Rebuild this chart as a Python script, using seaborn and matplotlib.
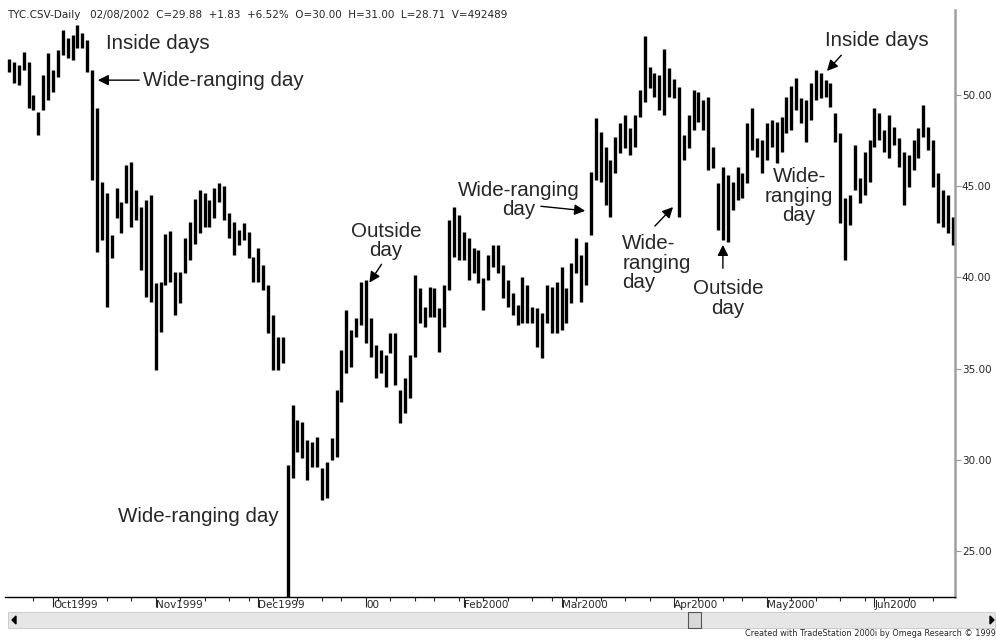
import numpy as np
import pandas as pd
import matplotlib
matplotlib.use("Agg")
import matplotlib.pyplot as plt
import seaborn as sns
from matplotlib.patches import Rectangle, Polygon

# daily highs and lows of TYC, 20 Sep 1999 - 23 Jun 2000
high = [51.97, 51.81, 51.65, 52.36, 51.81, 50.00, 49.07, 51.10, 52.30, 51.37,
        52.47, 53.57, 53.13, 53.29, 53.84, 53.40, 53.02, 51.37, 49.29, 45.23,
        44.63, 42.33, 44.90, 44.14, 46.16, 46.33, 44.79, 43.86, 44.24, 44.52,
        39.70, 39.75, 42.38, 42.55, 40.30, 40.30, 42.16, 43.04, 44.30, 44.79,
        44.63, 44.24, 44.90, 45.18, 45.01, 43.53, 43.04, 42.60, 42.98, 42.49,
        41.12, 41.62, 40.68, 39.59, 37.94, 36.73, 36.73, 29.72, 33.01, 32.19,
        32.07, 31.09, 30.98, 31.25, 29.55, 29.88, 31.20, 33.83, 36.02, 38.22,
        37.12, 37.78, 39.75, 39.86, 37.78, 36.30, 36.02, 35.75, 36.95, 36.95,
        33.83, 34.49, 35.75, 40.13, 39.42, 38.38, 39.48, 39.42, 38.33, 39.59,
        43.15, 43.86, 43.42, 42.49, 42.16, 41.62, 41.50, 39.97, 41.23, 41.78,
        41.78, 40.68, 39.86, 39.15, 38.49, 40.02, 39.59, 38.38, 38.33, 38.05,
        39.59, 39.48, 39.75, 40.57, 39.42, 40.79, 42.16, 41.23, 41.94, 45.78,
        48.74, 47.97, 47.15, 46.44, 47.70, 48.47, 48.91, 48.19, 48.91, 50.27,
        53.23, 51.54, 51.21, 51.10, 52.52, 51.48, 50.88, 50.44, 47.81, 48.91,
        50.27, 50.17, 49.73, 49.89, 47.15, 45.18, 46.05, 45.62, 45.23, 46.05,
        45.72, 48.47, 49.29, 47.64, 47.53, 48.47, 48.63, 48.52, 48.79, 49.89,
        50.49, 50.93, 49.84, 49.73, 50.66, 51.37, 51.21, 50.82, 50.66, 49.02,
        47.92, 44.35, 44.52, 47.26, 45.45, 46.87, 47.53, 49.29, 49.02, 48.08,
        48.91, 48.25, 47.64, 46.87, 46.71, 47.53, 48.19, 49.45, 48.25, 47.53,
        45.72, 44.79, 44.52, 43.31]
low = [51.26, 50.66, 50.55, 51.37, 49.29, 49.18, 47.81, 49.18, 49.73, 50.17,
       50.99, 52.19, 52.03, 51.92, 52.58, 52.58, 51.26, 45.34, 41.39, 42.05,
       38.38, 41.07, 43.26, 42.44, 44.08, 42.77, 43.15, 40.41, 38.93, 38.65,
       34.93, 37.01, 39.59, 39.75, 37.94, 38.60, 40.24, 40.96, 41.83, 42.44,
       42.77, 42.77, 43.26, 44.14, 43.15, 42.16, 41.23, 41.78, 42.05, 41.07,
       39.75, 39.75, 39.31, 36.95, 34.93, 34.93, 35.31, 21.50, 29.01, 30.43,
       30.10, 28.90, 29.61, 29.61, 27.80, 27.91, 30.00, 30.16, 33.17, 34.76,
       35.09, 36.73, 37.39, 36.41, 35.64, 34.49, 34.76, 33.99, 35.86, 34.10,
       32.02, 32.57, 33.39, 35.64, 37.50, 37.28, 37.83, 37.83, 35.91, 37.28,
       39.31, 41.12, 40.96, 40.96, 39.86, 40.24, 39.70, 38.22, 39.86, 40.57,
       40.24, 38.87, 38.38, 37.94, 37.39, 37.50, 37.50, 37.50, 36.19, 35.58,
       37.50, 36.95, 36.95, 37.12, 37.50, 38.60, 40.24, 38.65, 39.59, 42.33,
       45.34, 45.23, 43.97, 43.31, 45.72, 46.82, 47.10, 46.71, 47.15, 48.79,
       49.62, 50.38, 49.89, 49.18, 48.91, 49.89, 49.84, 43.31, 46.44, 47.10,
       48.08, 48.52, 48.08, 45.89, 46.00, 42.60, 42.05, 41.94, 43.70, 44.24,
       44.35, 45.18, 46.98, 46.60, 45.72, 46.44, 47.15, 46.27, 46.87, 47.92,
       48.08, 49.18, 48.47, 47.42, 48.63, 49.73, 49.84, 49.89, 49.34, 47.42,
       42.98, 40.96, 42.87, 44.79, 44.08, 44.52, 45.23, 47.15, 47.53, 46.87,
       46.55, 47.26, 46.05, 43.97, 44.96, 45.89, 46.55, 47.70, 46.98, 44.96,
       42.98, 42.77, 42.44, 41.78]

holidays = ['1999-11-25', '1999-12-24', '2000-01-17', '2000-02-21',
            '2000-04-21', '2000-05-29']
month_labels = ['Oct1999', 'Nov1999', 'Dec1999', '00', 'Feb2000', 'Mar2000',
                'Apr2000', 'May2000', 'Jun2000']
y_ticks = [25, 30, 35, 40, 45, 50]

days = pd.bdate_range('1999-09-20', '2000-06-30')
days = days[~days.isin(pd.to_datetime(holidays))][:len(high)]
idx = np.arange(len(high))

df = pd.DataFrame({'i': np.r_[idx, idx], 'price': np.r_[high, low]})

sns.set_style('white')
plt.rcParams['font.family'] = ['Liberation Sans', 'DejaVu Sans']
narrow = ['Liberation Sans Narrow', 'DejaVu Sans']

fig = plt.figure(figsize=(9.96, 6.4), dpi=100)
ax = fig.add_axes([0.005, 0.0672, 0.9538, 0.917])

sns.lineplot(data=df, x='i', y='price', units='i', estimator=None,
             color='black', lw=2.4, solid_capstyle='butt', legend=False, ax=ax)

ax.set_xlim(-0.82, 193.46)
ax.set_ylim(22.48, 54.66)
ax.set_xlabel('')
ax.set_ylabel('')

# month ticks at first bar of each month, minor ticks at week starts
month_pos = [i for i in range(1, len(days)) if days[i].month != days[i - 1].month]
week_pos = [i for i in range(1, len(days)) if days[i].weekday() < days[i - 1].weekday()]
ax.set_xticks(month_pos)
ax.set_xticklabels(month_labels, ha='left', fontsize=7.5, family=narrow)
ax.set_xticks(week_pos, minor=True)
ax.tick_params(axis='x', which='major', length=7, width=0.8, pad=-5, direction='out', bottom=True)
ax.tick_params(axis='x', which='minor', length=3, width=0.8, direction='out', bottom=True)

ax.yaxis.tick_right()
ax.set_yticks(y_ticks)
ax.set_yticklabels([f'{v:.2f}' for v in y_ticks], fontsize=7.5, family=narrow)
ax.tick_params(axis='y', length=4, width=0.8, color='#999999', pad=1, right=True)

for s in ['left', 'top']:
    ax.spines[s].set_visible(False)
ax.spines['right'].set_color('#a0a0a0')
ax.spines['right'].set_linewidth(1.8)
ax.spines['bottom'].set_color('black')
ax.spines['bottom'].set_linewidth(1.0)

# annotations
fs = 14.8
arrow = dict(arrowstyle='-|>', color='black', lw=1, mutation_scale=16)
ax.text(19.8, 52.85, 'Inside days', fontsize=fs, va='center', ha='left')
ax.text(27.4, 50.82, 'Wide-ranging day', fontsize=fs, va='center', ha='left')
ax.annotate('', xy=(17.6, 50.82), xytext=(27.2, 50.82), arrowprops=arrow)
ax.text(22.3, 26.92, 'Wide-ranging day', fontsize=fs, va='center', ha='left')

ax.text(77.1, 42.0, 'Outside\nday', fontsize=fs, va='center', ha='center', linespacing=1.05)
ax.annotate('', xy=(73.4, 39.59), xytext=(76.5, 40.85), arrowprops=arrow)

ax.text(104.3, 44.25, 'Wide-ranging\nday', fontsize=fs, va='center', ha='center', linespacing=1.0)
ax.annotate('', xy=(118.4, 43.64), xytext=(108.2, 43.92), arrowprops=arrow)

ax.text(125.4, 40.79, 'Wide-\nranging\nday', fontsize=fs, va='center', ha='left', linespacing=1.05)
ax.annotate('', xy=(136.2, 43.97), xytext=(131.7, 42.71), arrowprops=arrow)

ax.text(147.0, 38.85, 'Outside\nday', fontsize=fs, va='center', ha='center', linespacing=1.05)
ax.annotate('', xy=(146.0, 41.94), xytext=(146.0, 40.35), arrowprops=arrow)

ax.text(161.6, 44.46, 'Wide-\nranging\nday', fontsize=fs, va='center', ha='center', linespacing=1.05)

ax.text(177.5, 53.02, 'Inside days', fontsize=fs, va='center', ha='center')
ax.annotate('', xy=(166.9, 51.21), xytext=(170.6, 52.30), arrowprops=arrow)

# header line
fig.text(7 / 996, 1 - 15 / 640,
         'TYC.CSV-Daily   02/08/2002  C=29.88  +1.83  +6.52%  O=30.00  H=31.00  L=28.71  V=492489',
         fontsize=7.5, va='center', ha='left', family=narrow)

# scroll bar under the chart
fig.add_artist(Rectangle((8 / 996, 1 - 628 / 640), 987 / 996, 16 / 640, transform=fig.transFigure,
                         facecolor='#e6e6e6', edgecolor='#c8c8c8', lw=0.6, zorder=-1))
fig.add_artist(Rectangle((688 / 996, 1 - 628 / 640), 13 / 996, 16 / 640, transform=fig.transFigure,
                         facecolor='#d8d8d8', edgecolor='#555555', lw=0.8, zorder=-1))
fig.add_artist(Polygon([[12 / 996, 1 - 620 / 640], [16 / 996, 1 - 616 / 640], [16 / 996, 1 - 624 / 640]],
                       closed=True, transform=fig.transFigure, color='black', zorder=-1))
fig.add_artist(Polygon([[994 / 996, 1 - 620 / 640], [990 / 996, 1 - 616 / 640], [990 / 996, 1 - 624 / 640]],
                       closed=True, transform=fig.transFigure, color='black', zorder=-1))
fig.text(745 / 996, 1 - 634 / 640, 'Created with TradeStation 2000i by Omega Research \u00a9 1999',
         fontsize=5.9, va='center', ha='left', family=narrow)

fig.savefig('out.png', dpi=100)
